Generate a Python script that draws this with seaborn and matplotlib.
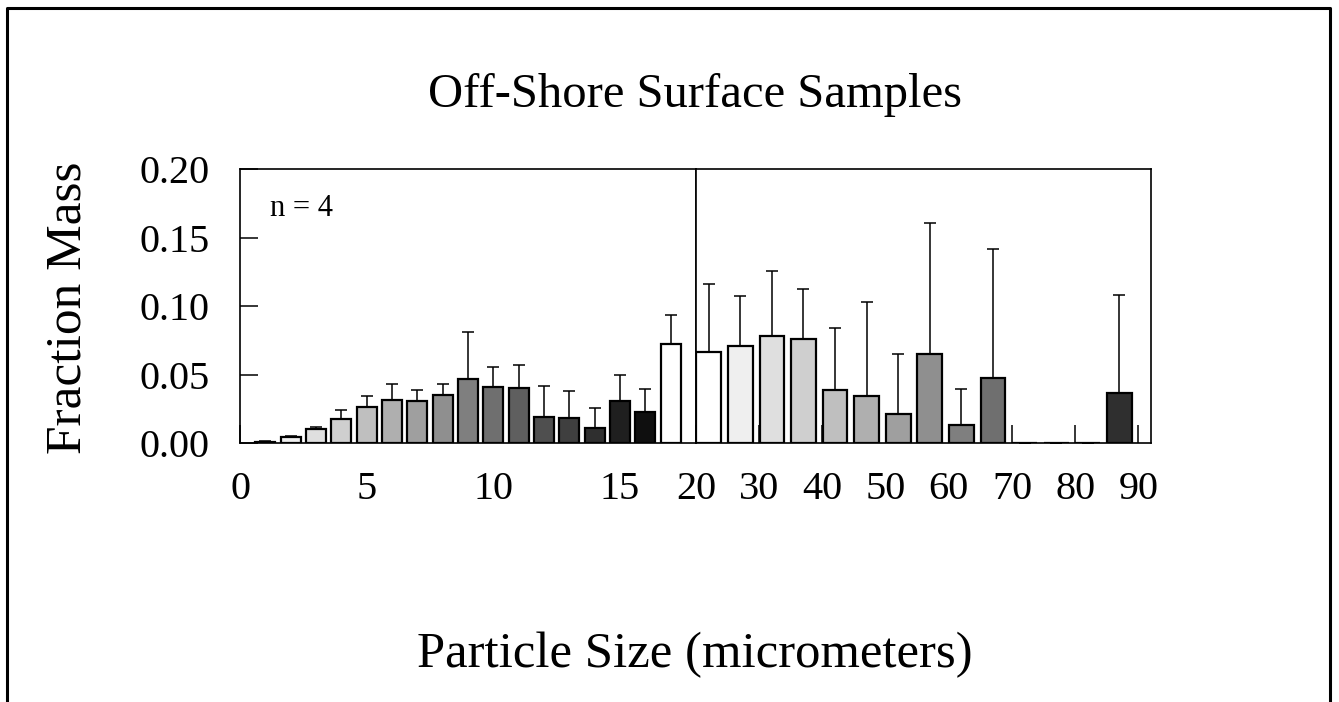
import matplotlib
matplotlib.use("Agg")
import matplotlib.pyplot as plt
import numpy as np
import pandas as pd
import seaborn as sns
from matplotlib.lines import Line2D

# fine bins, 1 um wide (centres 1..17)
fine_size = [1, 2, 3, 4, 5, 6, 7, 8, 9, 10, 11, 12, 13, 14, 15, 16, 17]
fine_mass = [0.0007, 0.0042, 0.0103, 0.0173, 0.0264, 0.0313, 0.0305, 0.0351,
             0.0469, 0.0410, 0.0403, 0.0190, 0.0183, 0.0108, 0.0305, 0.0225, 0.0723]
fine_err = [0.0005, 0.0007, 0.0017, 0.0071, 0.0080, 0.0119, 0.0083, 0.0081,
            0.0341, 0.0146, 0.0168, 0.0227, 0.0200, 0.0148, 0.0193, 0.0170, 0.0214]

# coarse bins, 5 um wide (20-25 ... 85-90)
coarse_size = [22, 27, 32, 37, 42, 47, 52, 57, 62, 67, 72, 77, 82, 87]
coarse_mass = [0.0666, 0.0710, 0.0779, 0.0761, 0.0390, 0.0344, 0.0215,
               0.0647, 0.0132, 0.0474, 0.0, 0.0, 0.0, 0.0362]
coarse_err = [0.0498, 0.0361, 0.0475, 0.0366, 0.0452, 0.0688, 0.0437,
              0.0956, 0.0261, 0.0939, 0.0, 0.0, 0.0, 0.0719]

y_ticks = [0.0, 0.05, 0.10, 0.15, 0.20]
fine_ticks = [0, 5, 10, 15]
coarse_ticks = [20, 30, 40, 50, 60, 70, 80, 90]

sns.set_style("ticks")
plt.rcParams["font.family"] = ["Liberation Serif", "DejaVu Serif"]
plt.rcParams["text.color"] = "black"
plt.rcParams["xtick.color"] = "black"
plt.rcParams["ytick.color"] = "black"


def grey_cycle(n):
    # 16 step grey ramp starting at white, repeating
    return [str((255 - 16 * (i % 16)) / 255) for i in range(n)]


def draw_panel(ax, sizes, mass, err, xlim, ticks):
    df = pd.DataFrame({"size": sizes, "mass": mass, "bin": [str(s) for s in sizes]})
    pal = dict(zip(df["bin"], grey_cycle(len(df))))
    sns.barplot(data=df, x="size", y="mass", hue="bin", palette=pal,
                native_scale=True, dodge=False, legend=False, errorbar=None,
                width=0.78, edgecolor="black", linewidth=1.6, saturation=1,
                ax=ax)
    ax.errorbar(sizes, mass, yerr=[np.zeros(len(err)), err], fmt="none",
                ecolor="black", elinewidth=1.1, capsize=4, capthick=1.1)
    ax.set_xlim(*xlim)
    ax.set_ylim(0, 0.20)
    ax.set_xticks(ticks)
    ax.set_xticklabels([str(t) for t in ticks])
    ax.set_xlabel("")
    ax.set_ylabel("")
    for sp in ax.spines.values():
        sp.set_visible(True)
        sp.set_linewidth(1.2)
        sp.set_color("black")
    ax.tick_params(axis="x", direction="in", length=13, width=1.1,
                   labelsize=29, pad=20, colors="black")


fig = plt.figure(figsize=(13.39, 7.02), dpi=100)
ax1 = fig.add_axes([240 / 1339, 1 - 443 / 702, 456 / 1339, 274 / 702])
ax2 = fig.add_axes([696 / 1339, 1 - 443 / 702, 455 / 1339, 274 / 702])

draw_panel(ax1, fine_size, fine_mass, fine_err, (0, 18), fine_ticks)
draw_panel(ax2, coarse_size, coarse_mass, coarse_err, (20, 92), coarse_ticks)

ax1.set_yticks(y_ticks)
ax1.set_yticklabels([f"{v:.2f}" for v in y_ticks])
ax1.tick_params(axis="y", direction="in", length=13, width=1.1,
                labelsize=29, pad=22, colors="black")
ax2.tick_params(axis="y", left=False, labelleft=False)

ax1.text(0.066, 0.855, "n = 4", transform=ax1.transAxes, fontsize=22,
         va="center", ha="left", color="black")

fig.text(695 / 1339, 1 - 95 / 702, "Off-Shore Surface Samples", fontsize=35,
         ha="center", va="center", color="black")
fig.text(68 / 1339, 1 - 308 / 702, "Fraction Mass", fontsize=37,
         rotation=90, ha="center", va="center", color="black")
fig.text(695 / 1339, 1 - 655 / 702, "Particle Size (micrometers)", fontsize=36.5,
         ha="center", va="center", color="black")

# frame around the figure (open at the bottom)
x0, x1, yt = 7 / 1339, 1330 / 1339, 1 - 8 / 702
fig.add_artist(Line2D([x0, x0, x1, x1], [0, yt, yt, 0], transform=fig.transFigure,
                      color="black", linewidth=2.2))

fig.savefig("out.png", dpi=100)
